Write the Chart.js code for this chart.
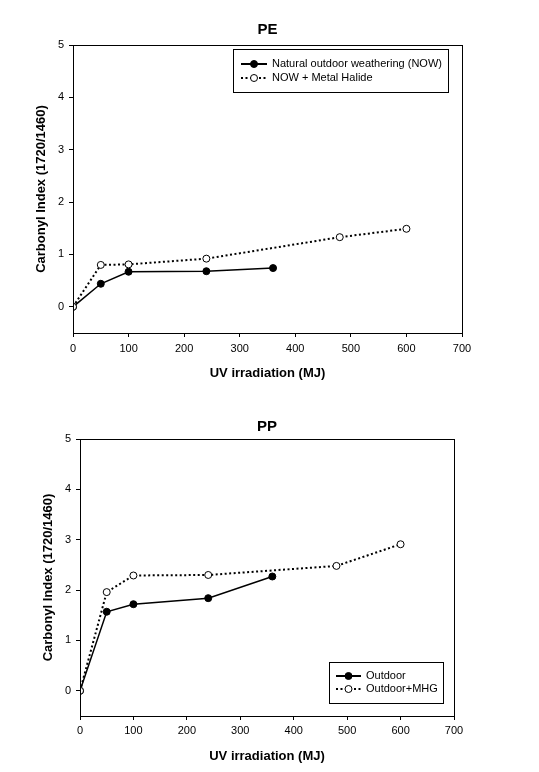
<!DOCTYPE html>
<html>
<head>
<meta charset="utf-8">
<script src="https://cdn.jsdelivr.net/npm/chart.js@4"></script>
<style>
  html, body { margin: 0; padding: 0; background: #fff; }
  #wrap { position: relative; width: 539px; height: 772px; }
  canvas { position: absolute; left: 0; }
</style>
</head>
<body>
<div id="wrap">
  <canvas id="pe-chart" width="539" height="390" style="top:0"></canvas>
  <canvas id="pp-chart" width="539" height="382" style="top:390px"></canvas>
</div>
<script>
// data
const xTicks = [0, 100, 200, 300, 400, 500, 600, 700];
const yTicks = [0, 1, 2, 3, 4, 5];

const peDoseNow = [0, 50, 100, 240, 360];
const peNow = [0, 0.44, 0.67, 0.68, 0.74];
const peDoseMh = [0, 50, 100, 240, 480, 600];
const peMh = [0, 0.80, 0.81, 0.92, 1.33, 1.49];

const ppDoseOut = [0, 50, 100, 240, 360];
const ppOut = [0, 1.57, 1.72, 1.84, 2.27];
const ppDoseMhg = [0, 50, 100, 240, 480, 600];
const ppMhg = [0, 1.96, 2.29, 2.30, 2.48, 2.91];

const FONT = 'Liberation Sans, Arial, sans-serif';
const pts = (xs, ys) => xs.map((x, i) => ({ x: x, y: ys[i] }));

// draws the box round the plot and the boxed legend
const framePlugin = {
    id: 'frame',
    afterDraw(chart, args, opts) {
        const { ctx, chartArea: a } = chart;
        ctx.save();
        ctx.strokeStyle = '#000';
        ctx.lineWidth = 1;
        const l = Math.round(a.left) + 0.5, t = Math.round(a.top) + 0.5;
        const r = Math.round(a.right) + 0.5, b = Math.round(a.bottom) + 0.5;
        ctx.strokeRect(l, t, r - l, b - t);

        const lg = opts.legend;
        ctx.strokeRect(lg.box[0] + 0.5, lg.box[1] + 0.5, lg.box[2], lg.box[3]);
        ctx.font = '11px ' + FONT;
        ctx.textBaseline = 'middle';
        ctx.fillStyle = '#000';
        lg.rows.forEach((row, i) => {
            const y = lg.rowY[i];
            ctx.beginPath();
            ctx.setLineDash(row.dash);
            ctx.lineWidth = 2;
            ctx.moveTo(lg.lineX[0], y);
            ctx.lineTo(lg.lineX[1], y);
            ctx.stroke();
            ctx.setLineDash([]);
            const cx = (lg.lineX[0] + lg.lineX[1]) / 2;
            ctx.beginPath();
            ctx.arc(cx, y, 3.5, 0, Math.PI * 2);
            ctx.fillStyle = row.fill;
            ctx.fill();
            ctx.lineWidth = 1;
            ctx.stroke();
            ctx.fillStyle = '#000';
            ctx.fillText(row.label, lg.textX, y);
        });
        ctx.restore();
    }
};

function makeChart(id, s) {
    const ctx = document.getElementById(id).getContext('2d');
    // eslint-disable-next-line no-undef
    return new Chart(ctx, {
        type: 'line',
        data: {
            datasets: [{
                label: s.names[0],
                data: pts(s.x1, s.y1),
                borderColor: '#000',
                borderWidth: 1.5,
                backgroundColor: '#000',
                pointBackgroundColor: '#000',
                pointBorderColor: '#000',
                pointRadius: 3.5,
                pointBorderWidth: 1,
                tension: 0,
                order: 1
            }, {
                label: s.names[1],
                data: pts(s.x2, s.y2),
                borderColor: '#000',
                borderWidth: 2,
                borderDash: [2, 2.5],
                pointBackgroundColor: '#fff',
                pointBorderColor: '#000',
                pointRadius: 3.5,
                pointBorderWidth: 1,
                tension: 0,
                order: 0
            }]
        },
        options: {
            responsive: false,
            animation: false,
            layout: { padding: { left: 0, right: s.padRight, top: 0, bottom: 0 } },
            plugins: {
                legend: { display: false },
                tooltip: { enabled: false },
                title: {
                    display: true,
                    text: s.title,
                    fullSize: false,
                    color: '#000',
                    font: { family: FONT, size: 15, weight: 'bold', lineHeight: 1.2 },
                    padding: s.titlePad
                },
                frame: { legend: s.legend }
            },
            scales: {
                x: {
                    type: 'linear',
                    min: 0,
                    max: 700,
                    afterBuildTicks: sc => { sc.ticks = xTicks.map(v => ({ value: v })); },
                    afterFit: sc => { sc.height = s.xHeight; },
                    border: { display: false },
                    grid: { drawOnChartArea: false, drawTicks: true, tickLength: 4, color: '#000' },
                    ticks: { color: '#000', padding: s.xTickPad, maxRotation: 0, font: { family: FONT, size: 11 } },
                    title: {
                        display: true,
                        text: 'UV irradiation (MJ)',
                        color: '#000',
                        font: { family: FONT, size: 13, weight: 'bold', lineHeight: 1.2 },
                        padding: { top: 0, bottom: s.xTitlePad }
                    }
                },
                y: {
                    type: 'linear',
                    min: -0.5,
                    max: 5,
                    afterBuildTicks: sc => { sc.ticks = yTicks.map(v => ({ value: v })); },
                    afterFit: sc => { sc.width = s.yWidth; },
                    border: { display: false },
                    grid: { drawOnChartArea: false, drawTicks: true, tickLength: 4, color: '#000' },
                    ticks: { color: '#000', padding: 5, font: { family: FONT, size: 11 } },
                    title: {
                        display: true,
                        text: 'Carbonyl Index (1720/1460)',
                        color: '#000',
                        font: { family: FONT, size: 13, weight: 'bold', lineHeight: 1.2 },
                        padding: { top: s.yTitlePad, bottom: 0 }
                    }
                }
            }
        },
        plugins: [framePlugin]
    });
}

makeChart('pe-chart', {
    title: 'PE',
    names: ['Natural outdoor weathering (NOW)', 'NOW + Metal Halide'],
    x1: peDoseNow, y1: peNow, x2: peDoseMh, y2: peMh,
    padRight: 77,
    titlePad: { top: 21, bottom: 6 },
    xHeight: 57,
    xTickPad: 5,
    xTitlePad: 9,
    yWidth: 73,
    yTitlePad: 34,
    legend: {
        box: [233, 49, 215, 43],
        rowY: [64, 78],
        lineX: [241, 267],
        textX: 272,
        rows: [
            { label: 'Natural outdoor weathering (NOW)', dash: [], fill: '#000' },
            { label: 'NOW + Metal Halide', dash: [2, 2.5], fill: '#fff' }
        ]
    }
});

makeChart('pp-chart', {
    title: 'PP',
    names: ['Outdoor', 'Outdoor+MHG'],
    x1: ppDoseOut, y1: ppOut, x2: ppDoseMhg, y2: ppMhg,
    padRight: 85,
    titlePad: { top: 28, bottom: 3 },
    xHeight: 56,
    xTickPad: 4,
    xTitlePad: 8,
    yWidth: 80,
    yTitlePad: 41,
    legend: {
        box: [329, 272, 114, 41],
        rowY: [286, 299],
        lineX: [336, 361],
        textX: 366,
        rows: [
            { label: 'Outdoor', dash: [], fill: '#000' },
            { label: 'Outdoor+MHG', dash: [2, 2.5], fill: '#fff' }
        ]
    }
});
</script>
</body>
</html>
